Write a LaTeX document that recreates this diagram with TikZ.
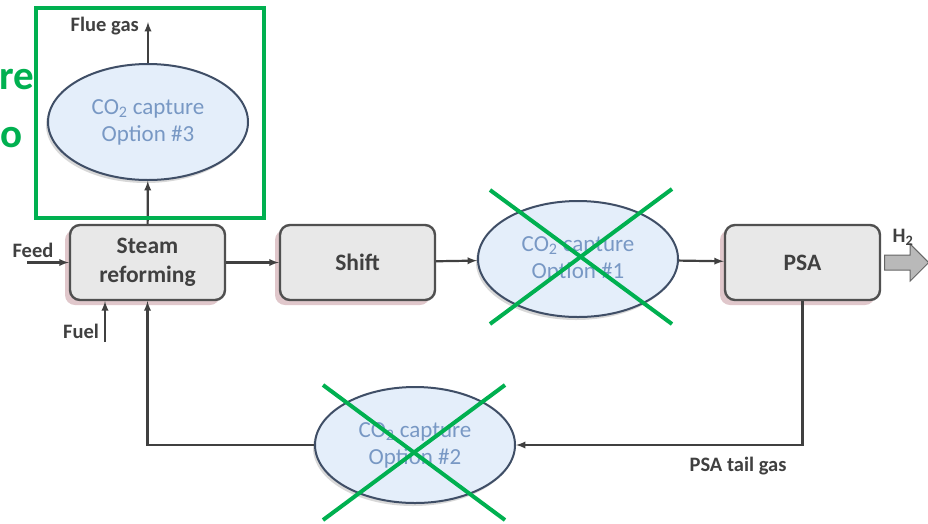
\documentclass[tikz,border=0pt]{standalone}
\usepackage{fontspec}
\setmainfont{Carlito}
\usetikzlibrary{calc,arrows,shapes.geometric,shapes.arrows,shadows}
\definecolor{markgreen}{HTML}{00B050}
\definecolor{boxfill}{HTML}{E8E8E8}
\definecolor{boxline}{HTML}{505050}
\definecolor{boxshade}{HTML}{D9B9BE}
\definecolor{ellfill}{HTML}{E4EEFA}
\definecolor{ellline}{HTML}{3F4E66}
\definecolor{elltext}{HTML}{7898C4}
\definecolor{labeltext}{HTML}{404040}

\begin{document}
\begin{tikzpicture}[x=1pt,y=-1pt,
  unitbox/.style={draw=boxline, fill=boxfill, line width=2.4pt, rounded corners=10pt,
    minimum width=155pt, minimum height=75pt, align=center, font=\bfseries\fontsize{23.5}{29}\selectfont,
    text=labeltext, drop shadow={shadow xshift=-5pt, shadow yshift=-5pt, fill=boxshade, opacity=0.8}},
  capture/.style={ellipse, draw=ellline, fill=ellfill, line width=2pt, inner sep=0pt,
    minimum width=200pt, minimum height=116pt, align=center, font=\fontsize{23}{27}\selectfont,
    text=elltext, drop shadow={shadow xshift=-2pt, shadow yshift=-3pt, fill=gray!60, opacity=0.5}},
  flow/.style={-latex, draw=labeltext, line width=2.2pt},
  streamlabel/.style={text=labeltext, font=\bfseries\fontsize{20.5}{22}\selectfont, inner sep=0pt},
  cross/.style={draw=markgreen, line width=4pt}]
  \useasboundingbox (0,0) rectangle (928,523);
  \fill[white] (0,0) rectangle (928,523);

  % cut-off slide title
  \node[text=markgreen, font=\bfseries\fontsize{41}{41}\selectfont, anchor=east, inner sep=0pt] (titleA) at (34,80) {re};
  \node[text=markgreen, font=\bfseries\fontsize{41}{41}\selectfont, anchor=east, inner sep=0pt] (titleB) at (23,138) {o};

  % process units
  \node[unitbox] (sr) at (147.5,262.5) {Steam\\reforming};
  \node[unitbox] (shift) at (357.5,262.5) {Shift};
  \node[unitbox] (psa) at (802.5,262.5) {PSA};
  \node[capture] (cc3) at (148,122) {CO\textsubscript{2} capture\\Option \#3};
  \node[capture] (cc1) at (578,259) {CO\textsubscript{2} capture\\Option \#1};
  \node[capture] (cc2) at (415,445) {CO\textsubscript{2} capture\\Option \#2};

  % free ends
  \coordinate (feed) at (27,262.5);
  \coordinate (fuel) at (105,342);
  \coordinate (flue) at (148,22);

  % streams
  \draw[flow] (feed) -- (sr.west);
  \draw[flow] (fuel) -- (fuel |- sr.south);
  \draw[flow] (sr) -- (shift);
  \draw[flow] (shift) -- (cc1);
  \draw[flow] (cc1) -- (psa);
  \draw[flow] (sr) -- (cc3);
  \draw[flow] (cc3) -- (flue);
  \draw[flow] (psa.south) |- (cc2.east);
  \draw[flow] (cc2.west) -| (sr.south);

  % product arrow
  \node[single arrow, draw=gray!80!black, fill=gray!55, line width=1pt, minimum height=44pt,
    inner sep=7pt, single arrow head extend=11pt, anchor=tail] (h2) at ($(psa.east)+(3,0)$) {};

  % stream labels
  \node[streamlabel, anchor=east] (fluelab) at (139,26) {Flue gas};
  \node[streamlabel] (feedlab) at (33,250) {Feed};
  \node[streamlabel] (fuellab) at (81,331) {Fuel};
  \node[streamlabel] (taillab) at (738,466) {PSA tail gas};
  \node[streamlabel] (h2lab) at (903,237) {H\textsubscript{2}};

  % marks
  \draw[markgreen, line width=4pt] (36,8) rectangle (264,218);
  \draw[cross] (490,190) -- (672,324);
  \draw[cross] (672,189) -- (490,324);
  \draw[cross] (323,385) -- (505,520);
  \draw[cross] (505,385) -- (323,520);
\end{tikzpicture}
\end{document}
